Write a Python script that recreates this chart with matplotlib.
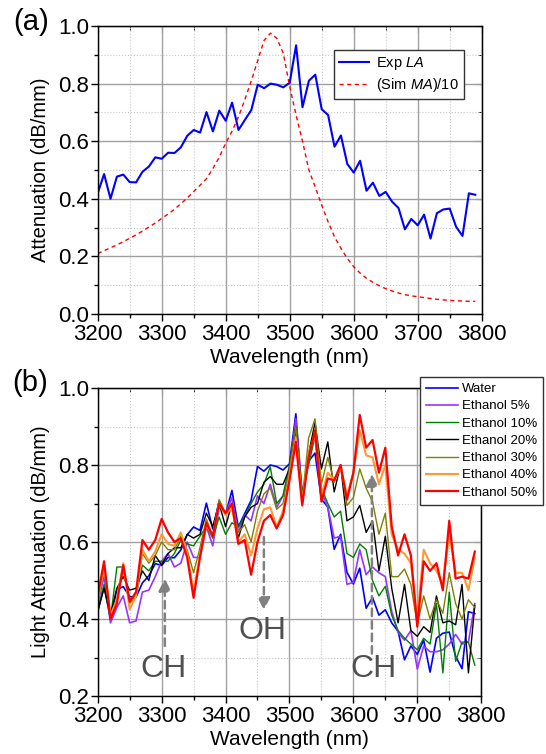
import numpy as np
import matplotlib
matplotlib.use('Agg')
import matplotlib.pyplot as plt
from matplotlib.ticker import MultipleLocator

plt.rcParams['font.family'] = ['Liberation Sans', 'DejaVu Sans']
plt.rcParams['mathtext.fontset'] = 'custom'
plt.rcParams['mathtext.it'] = 'Liberation Sans:italic'
plt.rcParams['mathtext.rm'] = 'Liberation Sans'

# wavelength grid (nm)
wl = np.arange(3200, 3800, 10)

# (a) measured light attenuation (dB/mm)
exp_la = [0.419, 0.486, 0.400, 0.477, 0.484, 0.458, 0.457, 0.494, 0.512, 0.544,
          0.539, 0.560, 0.559, 0.579, 0.619, 0.639, 0.630, 0.701, 0.634, 0.706,
          0.671, 0.734, 0.639, 0.674, 0.708, 0.796, 0.784, 0.800, 0.796, 0.787,
          0.803, 0.933, 0.718, 0.810, 0.831, 0.711, 0.691, 0.581, 0.620, 0.521,
          0.491, 0.532, 0.428, 0.456, 0.410, 0.424, 0.390, 0.368, 0.294, 0.330,
          0.308, 0.345, 0.262, 0.350, 0.363, 0.366, 0.303, 0.271, 0.419, 0.414]

# (a) simulated material absorption / 10
sim_ma = [0.210, 0.220, 0.230, 0.240, 0.251, 0.263, 0.275, 0.288, 0.302, 0.316,
          0.332, 0.347, 0.364, 0.383, 0.403, 0.425, 0.447, 0.470, 0.505, 0.545,
          0.593, 0.635, 0.685, 0.745, 0.810, 0.880, 0.950, 0.975, 0.957, 0.905,
          0.790, 0.690, 0.600, 0.500, 0.440, 0.378, 0.320, 0.268, 0.228, 0.193,
          0.164, 0.142, 0.124, 0.110, 0.098, 0.088, 0.080, 0.073, 0.067, 0.063,
          0.060, 0.057, 0.054, 0.051, 0.049, 0.047, 0.046, 0.045, 0.044, 0.044]

# (b) ethanol concentration series
eth5 = [0.44, 0.51, 0.39, 0.43, 0.46, 0.39, 0.395, 0.47, 0.475, 0.51,
        0.55, 0.57, 0.535, 0.545, 0.60, 0.56, 0.56, 0.64, 0.59, 0.69,
        0.675, 0.715, 0.625, 0.67, 0.655, 0.72, 0.70, 0.75, 0.69, 0.72,
        0.79, 0.92, 0.72, 0.82, 0.875, 0.73, 0.69, 0.61, 0.615, 0.49,
        0.495, 0.58, 0.515, 0.535, 0.52, 0.51, 0.42, 0.365, 0.345, 0.37,
        0.27, 0.33, 0.315, 0.315, 0.32, 0.335, 0.36, 0.335, 0.34, 0.44]
eth10 = [0.42, 0.49, 0.40, 0.535, 0.535, 0.45, 0.46, 0.54, 0.525, 0.55,
         0.55, 0.55, 0.57, 0.605, 0.595, 0.59, 0.615, 0.64, 0.61, 0.665,
         0.62, 0.65, 0.64, 0.665, 0.70, 0.73, 0.75, 0.795, 0.70, 0.72,
         0.80, 0.89, 0.73, 0.80, 0.875, 0.74, 0.70, 0.665, 0.68, 0.57,
         0.56, 0.595, 0.58, 0.50, 0.46, 0.485, 0.41, 0.37, 0.35, 0.335,
         0.32, 0.35, 0.335, 0.44, 0.26, 0.47, 0.29, 0.34, 0.34, 0.28]
eth20 = [0.42, 0.48, 0.41, 0.48, 0.51, 0.475, 0.48, 0.525, 0.50, 0.565,
         0.54, 0.57, 0.585, 0.585, 0.62, 0.61, 0.62, 0.675, 0.64, 0.70,
         0.64, 0.70, 0.61, 0.665, 0.69, 0.70, 0.755, 0.77, 0.75, 0.75,
         0.79, 0.90, 0.70, 0.83, 0.91, 0.79, 0.86, 0.73, 0.80, 0.655,
         0.665, 0.695, 0.625, 0.655, 0.525, 0.615, 0.48, 0.39, 0.49, 0.37,
         0.355, 0.38, 0.365, 0.46, 0.39, 0.395, 0.385, 0.49, 0.26, 0.435]
eth30 = [0.44, 0.53, 0.41, 0.45, 0.53, 0.44, 0.46, 0.57, 0.545, 0.565,
         0.60, 0.58, 0.58, 0.615, 0.58, 0.52, 0.585, 0.66, 0.615, 0.71,
         0.675, 0.695, 0.625, 0.645, 0.60, 0.68, 0.725, 0.74, 0.685, 0.70,
         0.79, 0.90, 0.71, 0.87, 0.92, 0.75, 0.82, 0.755, 0.80, 0.695,
         0.715, 0.79, 0.74, 0.705, 0.62, 0.675, 0.51, 0.51, 0.53, 0.49,
         0.385, 0.46, 0.40, 0.45, 0.415, 0.52, 0.44, 0.40, 0.45, 0.43]
eth40 = [0.45, 0.54, 0.41, 0.45, 0.545, 0.425, 0.46, 0.58, 0.55, 0.575,
         0.62, 0.595, 0.59, 0.625, 0.57, 0.47, 0.565, 0.645, 0.615, 0.70,
         0.67, 0.69, 0.60, 0.62, 0.565, 0.635, 0.685, 0.69, 0.64, 0.68,
         0.77, 0.87, 0.70, 0.83, 0.88, 0.72, 0.78, 0.76, 0.795, 0.72,
         0.78, 0.89, 0.825, 0.82, 0.75, 0.80, 0.62, 0.58, 0.57, 0.545,
         0.40, 0.58, 0.545, 0.525, 0.49, 0.62, 0.52, 0.52, 0.475, 0.56]
eth50 = [0.46, 0.55, 0.40, 0.44, 0.54, 0.445, 0.47, 0.605, 0.58, 0.605,
         0.66, 0.625, 0.60, 0.61, 0.56, 0.455, 0.56, 0.65, 0.615, 0.70,
         0.675, 0.70, 0.595, 0.605, 0.515, 0.60, 0.655, 0.67, 0.635, 0.67,
         0.76, 0.86, 0.695, 0.82, 0.89, 0.705, 0.765, 0.76, 0.80, 0.71,
         0.78, 0.93, 0.845, 0.865, 0.78, 0.845, 0.64, 0.565, 0.62, 0.565,
         0.38, 0.55, 0.525, 0.545, 0.475, 0.655, 0.505, 0.51, 0.505, 0.575]

series_b = [exp_la, eth5, eth10, eth20, eth30, eth40, eth50]
labels_b = ['Water', 'Ethanol 5%', 'Ethanol 10%', 'Ethanol 20%',
            'Ethanol 30%', 'Ethanol 40%', 'Ethanol 50%']
colors_b = ['#0000ff', '#9933ff', '#008000', '#000000', '#808000', '#ff9933', '#ff0000']
widths_b = [1.2, 1.2, 1.0, 1.0, 1.0, 1.5, 1.6]

TICK_FS = 16
LABEL_FS = 14.5


def style_axes(ax, ymin, ymax):
    ax.set_xlim(3200, 3800)
    ax.set_ylim(ymin, ymax)
    ax.xaxis.set_major_locator(MultipleLocator(100))
    ax.xaxis.set_minor_locator(MultipleLocator(50))
    ax.yaxis.set_major_locator(MultipleLocator(0.2))
    ax.yaxis.set_minor_locator(MultipleLocator(0.1))
    ax.yaxis.set_major_formatter(plt.FormatStrFormatter('%.1f'))
    ax.grid(which='major', color='#a0a0a0', lw=1.0, ls='-')
    ax.grid(which='minor', color='#c8c8c8', lw=0.8, ls=':')
    ax.set_axisbelow(True)
    ax.tick_params(which='major', direction='out', length=5, width=1, labelsize=TICK_FS)
    ax.tick_params(which='minor', direction='out', length=3, width=1)
    ax.tick_params(axis='x', pad=2.5)
    ax.tick_params(axis='y', pad=1)
    for s in ax.spines.values():
        s.set_linewidth(1.0)
    # mirrored inward ticks on top/right
    top = ax.secondary_xaxis('top')
    top.xaxis.set_major_locator(MultipleLocator(100))
    top.xaxis.set_minor_locator(MultipleLocator(50))
    top.tick_params(which='both', direction='in', labeltop=False)
    top.tick_params(which='major', length=5)
    top.tick_params(which='minor', length=3)
    right = ax.secondary_yaxis('right')
    right.yaxis.set_major_locator(MultipleLocator(0.2))
    right.yaxis.set_minor_locator(MultipleLocator(0.1))
    right.tick_params(which='both', direction='in', labelright=False)
    right.tick_params(which='major', length=5)
    right.tick_params(which='minor', length=3)


fig = plt.figure(figsize=(5.46, 7.54), dpi=100)

# ---- panel (a)
ax1 = fig.add_axes([97.7 / 546, 1 - 314 / 754, 384 / 546, 288 / 754])
ax1.plot(wl, exp_la, color='#0000ff', lw=1.5, label='Exp $\\mathit{LA}$')
ax1.plot(wl, sim_ma, color='#ff0000', lw=1.0, ls=(0, (3, 2.5)),
         label='(Sim $\\mathit{MA}$)/10')
style_axes(ax1, 0.0, 1.0)
ax1.set_xlabel('Wavelength (nm)', fontsize=LABEL_FS + 0.5, labelpad=2)
ax1.set_ylabel('Attenuation (dB/mm)', fontsize=LABEL_FS, labelpad=6)
leg1 = ax1.legend(loc='upper right', bbox_to_anchor=(0.953, 0.917), fontsize=10.5,
                  frameon=True, fancybox=False, edgecolor='#333333', framealpha=1,
                  handlelength=2.0, borderpad=0.35, labelspacing=0.25,
                  handletextpad=0.5, borderaxespad=0)
leg1.get_frame().set_linewidth(1.0)
fig.text(31 / 546, 1 - 22 / 754, '(a)', fontsize=21, ha='center', va='center')

# ---- panel (b)
ax2 = fig.add_axes([97.7 / 546, 1 - 696 / 754, 383.5 / 546, 308 / 754])
for y, lab, c, w in zip(series_b, labels_b, colors_b, widths_b):
    ax2.plot(wl, y, color=c, lw=w, label=lab)
style_axes(ax2, 0.2, 1.0)
ax2.set_xlabel('Wavelength (nm)', fontsize=LABEL_FS + 0.5, labelpad=2)
ax2.set_ylabel('Light Attenuation (dB/mm)', fontsize=LABEL_FS, labelpad=6)
leg2 = fig.legend(*ax2.get_legend_handles_labels(), loc='upper right',
                  bbox_to_anchor=(543 / 546, 1 - 377 / 754), fontsize=9.5,
                  frameon=True, fancybox=False, edgecolor='#333333',
                  handlelength=2.4, borderpad=0.45, labelspacing=0.38,
                  handletextpad=0.3, framealpha=1, borderaxespad=0)
leg2.get_frame().set_linewidth(1.0)
fig.text(30 / 546, 1 - 383 / 754, '(b)', fontsize=21, ha='center', va='center')

arrow_kw = dict(arrowstyle='-|>', color='#808080', lw=1.8, ls=(0, (3, 2)),
                mutation_scale=18, shrinkA=0, shrinkB=0)
ax2.annotate('', xy=(3305, 0.505), xytext=(3305, 0.33), arrowprops=arrow_kw)
ax2.annotate('', xy=(3460, 0.423), xytext=(3460, 0.613), arrowprops=arrow_kw)
ax2.annotate('', xy=(3629, 0.777), xytext=(3629, 0.31), arrowprops=arrow_kw)
ax2.text(3303, 0.27, 'CH', fontsize=23, color='#505050', ha='center', va='center')
ax2.text(3458, 0.37, 'OH', fontsize=23, color='#505050', ha='center', va='center')
ax2.text(3631, 0.27, 'CH', fontsize=23, color='#505050', ha='center', va='center')

fig.savefig('out.png', dpi=100)
